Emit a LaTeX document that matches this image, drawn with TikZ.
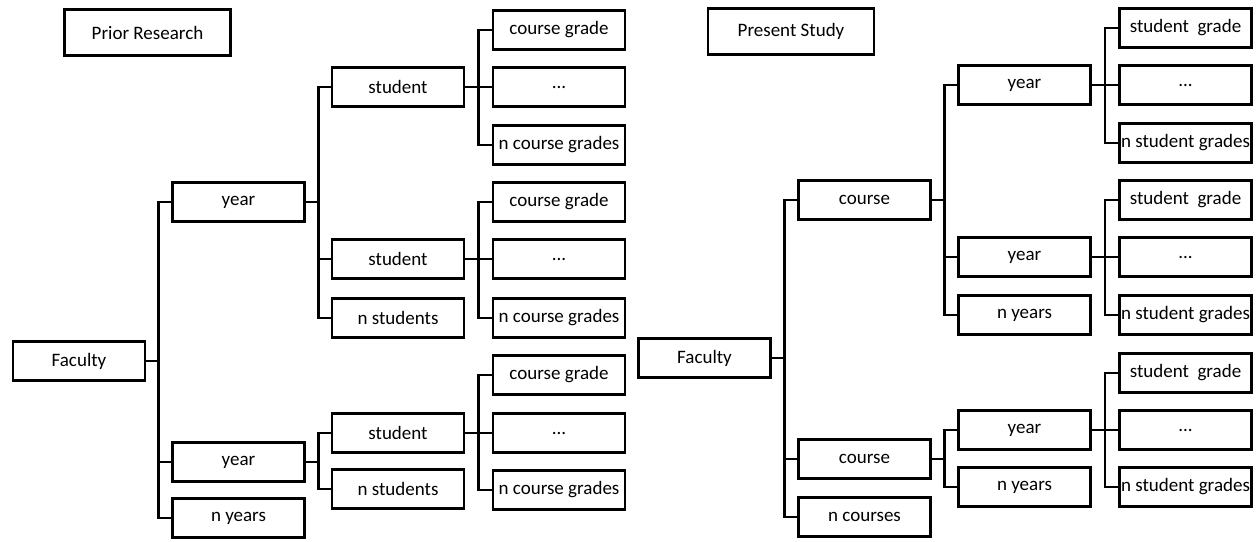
\documentclass[tikz,border=0pt]{standalone}
\usepackage{fontspec}
\setmainfont{Carlito}
\usetikzlibrary{calc}
\tikzset{
  box/.style={draw, line width=2.8pt, minimum width=132pt, minimum height=39pt, inner sep=0pt, font=\fontsize{19}{22}\selectfont},
  titlebox/.style={box, minimum width=166pt, minimum height=46pt},
  conn/.style={line width=2.8pt}
}
\newcommand\treelink[2]{\draw[conn] (#1.east) -| ($(#1.east)!0.5!(#2.west)$) |- (#2.west);}
\newcommand\widetext[1]{\makebox[0pt][c]{#1}}
\begin{document}
\begin{tikzpicture}[x=1pt,y=-1pt]
\useasboundingbox (0,0) rectangle (1257,541);
% ---------- Left: Prior Research ----------
\node[titlebox] (prt) at (147.5,32.5) {Prior Research};
\node[box] (lfac) at (79,361) {Faculty};
\node[box] (lyA) at (238.5,202) {year};
\node[box] (lyB) at (238.5,462) {year};
\node[box] (lny) at (238.5,518) {n years};
\node[box] (lsA1) at (398,87) {student};
\node[box] (lsA2) at (398,259) {student};
\node[box] (lnsA) at (398,318) {n students};
\node[box] (lsB1) at (398,433) {student};
\node[box] (lnsB) at (398,489) {n students};
\node[box] (lg11) at (559,30) {course grade};
\node[box] (lg12) at (559,87) {...};
\node[box] (lg13) at (559,145) {\widetext{n course grades}};
\node[box] (lg21) at (559,202) {course grade};
\node[box] (lg22) at (559,259) {...};
\node[box] (lg23) at (559,318) {\widetext{n course grades}};
\node[box] (lg31) at (559,375) {course grade};
\node[box] (lg32) at (559,433) {...};
\node[box] (lg33) at (559,490) {\widetext{n course grades}};
\treelink{lfac}{lyA}
\treelink{lfac}{lyB}
\treelink{lfac}{lny}
\treelink{lyA}{lsA1}
\treelink{lyA}{lsA2}
\treelink{lyA}{lnsA}
\treelink{lyB}{lsB1}
\treelink{lyB}{lnsB}
\treelink{lsA1}{lg11}
\treelink{lsA1}{lg12}
\treelink{lsA1}{lg13}
\treelink{lsA2}{lg21}
\treelink{lsA2}{lg22}
\treelink{lsA2}{lg23}
\treelink{lsB1}{lg31}
\treelink{lsB1}{lg32}
\treelink{lsB1}{lg33}
% ---------- Right: Present Study ----------
\node[titlebox] (pst) at (791,31.5) {Present Study};
\node[box] (rfac) at (704.5,358) {Faculty};
\node[box] (rcA) at (864.5,200) {course};
\node[box] (rcB) at (864.5,459) {course};
\node[box] (rnc) at (864.5,517) {n courses};
\node[box] (ryA1) at (1024.5,85) {year};
\node[box] (ryA2) at (1024.5,257) {year};
\node[box] (rnyA) at (1024.5,315) {n years};
\node[box] (ryB1) at (1024.5,430) {year};
\node[box] (rnyB) at (1024.5,487) {n years};
\node[box] (rg11) at (1185.5,28) {\widetext{student\ \ grade}};
\node[box] (rg12) at (1185.5,85) {...};
\node[box] (rg13) at (1185.5,143) {\widetext{n student grades}};
\node[box] (rg21) at (1185.5,200) {\widetext{student\ \ grade}};
\node[box] (rg22) at (1185.5,257) {...};
\node[box] (rg23) at (1185.5,315) {\widetext{n student grades}};
\node[box] (rg31) at (1185.5,373) {\widetext{student\ \ grade}};
\node[box] (rg32) at (1185.5,430) {...};
\node[box] (rg33) at (1185.5,487) {\widetext{n student grades}};
\treelink{rfac}{rcA}
\treelink{rfac}{rcB}
\treelink{rfac}{rnc}
\treelink{rcA}{ryA1}
\treelink{rcA}{ryA2}
\treelink{rcA}{rnyA}
\treelink{rcB}{ryB1}
\treelink{rcB}{rnyB}
\treelink{ryA1}{rg11}
\treelink{ryA1}{rg12}
\treelink{ryA1}{rg13}
\treelink{ryA2}{rg21}
\treelink{ryA2}{rg22}
\treelink{ryA2}{rg23}
\treelink{ryB1}{rg31}
\treelink{ryB1}{rg32}
\treelink{ryB1}{rg33}
\end{tikzpicture}
\end{document}
